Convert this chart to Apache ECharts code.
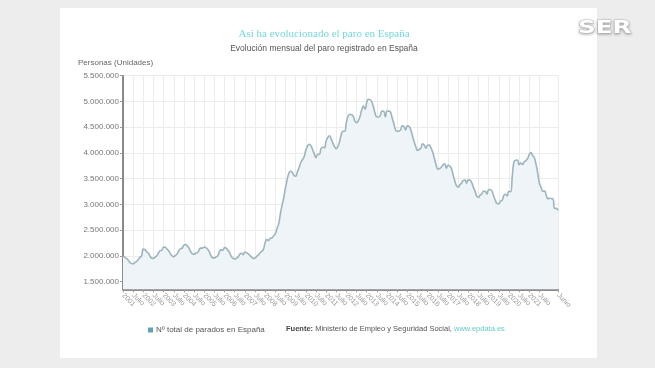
<!DOCTYPE html>
<html>
<head>
<meta charset="utf-8">
<script src="https://cdn.jsdelivr.net/npm/echarts@6/dist/echarts.min.js"></script>
<style>
html,body{margin:0;padding:0;background:#ededed;}
#c{width:655px;height:368px;}
</style>
</head>
<body>
<div id="c"></div>
<script>
// Paro registrado en España (miles de personas), enero 2001 - junio 2022
const years = [2001,2002,2003,2004,2005,2006,2007,2008,2009,2010,2011,2012,2013,2014,2015,2016,2017,2018,2019,2020,2021,2022];
const paro2001 = [1990,1975,1950,1920,1870,1850,1845,1870,1890,1930,1970,2000];
const paro2002 = [2130,2120,2080,2050,1990,1955,1950,1975,2000,2060,2100,2110];
const paro2003 = [2170,2165,2130,2100,2040,2000,1985,2010,2040,2100,2140,2150];
const paro2004 = [2210,2220,2190,2150,2080,2040,2030,2050,2060,2120,2150,2150];
const paro2005 = [2170,2160,2130,2080,2000,1960,1960,1980,2000,2080,2120,2110];
const paro2006 = [2160,2150,2110,2060,1990,1950,1940,1955,1980,2030,2050,2020];
const paro2007 = [2075,2060,2040,2010,1970,1950,1955,1990,2015,2060,2090,2130];
const paro2008 = [2260,2315,2300,2340,2350,2390,2430,2530,2625,2820,2990,3130];
const paro2009 = [3328,3482,3606,3645,3620,3565,3545,3630,3710,3810,3870,3924];
const paro2010 = [4048,4130,4167,4142,4066,3982,3909,3970,3972,4086,4110,4100];
const paro2011 = [4231,4299,4333,4269,4190,4122,4080,4130,4226,4360,4420,4422];
const paro2012 = [4599,4712,4751,4744,4714,4615,4587,4626,4705,4833,4908,4849];
const paro2013 = [4980,5040,5035,4989,4890,4763,4698,4699,4724,4811,4808,4701];
const paro2014 = [4814,4812,4795,4684,4572,4449,4419,4427,4447,4526,4512,4448];
const paro2015 = [4525,4512,4451,4333,4215,4120,4046,4067,4094,4176,4149,4094];
const paro2016 = [4150,4152,4094,4011,3891,3767,3683,3698,3720,3764,3789,3702];
const paro2017 = [3760,3750,3702,3573,3461,3362,3335,3382,3410,3467,3475,3412];
const paro2018 = [3476,3470,3422,3335,3252,3162,3135,3182,3202,3254,3252,3202];
const paro2019 = [3285,3289,3255,3163,3079,3015,3011,3065,3080,3177,3198,3163];
const paro2020 = [3253,3246,3548,3831,3857,3862,3773,3802,3776,3826,3851,3888];
const paro2021 = [3964,4008,3949,3910,3781,3614,3416,3333,3257,3257,3182,3106];
const paro2022 = [3123,3111,3108,2922,2922,2881];
const monthNames = ['Enero','Febrero','Marzo','Abril','Mayo','Junio','Julio','Agosto','Septiembre','Octubre','Noviembre','Diciembre'];
const yTicks = [1500000,2000000,2500000,3000000,3500000,4000000,4500000,5000000,5500000];

const allYears = [paro2001,paro2002,paro2003,paro2004,paro2005,paro2006,paro2007,paro2008,paro2009,paro2010,paro2011,paro2012,paro2013,paro2014,paro2015,paro2016,paro2017,paro2018,paro2019,paro2020,paro2021,paro2022];
const categories = [];
const values = [];
allYears.forEach(function(arr, yi){
  arr.forEach(function(v, mi){
    categories.push(monthNames[mi] + ' ' + years[yi]);
    values.push(v * 1000);
  });
});
const lastIdx = values.length - 1;
function showTick(i){ return (i % 6 === 0 && i <= lastIdx - 11) || i === lastIdx; }
function fmt(v){ return String(v).replace(/\B(?=(\d{3})+(?!\d))/g, '.'); }

const chart = echarts.init(document.getElementById('c'), null, {renderer:'canvas'});
chart.setOption({
  animation: false,
  backgroundColor: 'transparent',
  title: {
    text: 'Así ha evolucionado el paro en España',
    subtext: 'Evolución mensual del paro registrado en España',
    left: 319, top: 24, textAlign: 'center', itemGap: 4,
    textStyle: {fontFamily: 'Liberation Serif', fontSize: 11, fontWeight: 'normal', color: '#74d8da'},
    subtextStyle: {fontFamily: 'Liberation Sans', fontSize: 8.5, color: '#555'}
  },
  graphic: [
    {type:'rect', z:-10, shape:{x:60,y:8,width:537,height:350}, style:{fill:'#ffffff'}},
    {type:'text', left:78, top:59, style:{text:'Personas (Unidades)', fontFamily:'Liberation Sans', fontSize:8, fill:'#666'}},
    {type:'text', left:286, top:324.5, style:{
      text:'{b|Fuente:} Ministerio de Empleo y Seguridad Social, {l|www.epdata.es}',
      fontFamily:'Liberation Sans', fontSize:7.5, fill:'#555',
      rich:{b:{fontWeight:'bold', fontFamily:'Liberation Sans', fontSize:7.5, fill:'#444'}, l:{fill:'#66cccc', fontFamily:'Liberation Sans', fontSize:7.5}}
    }},
    {type:'text', x:578, y:20, scaleX:1.45, style:{text:'SER', fontFamily:'DejaVu Sans', fontWeight:'bold', fontSize:17, fill:'#ffffff', stroke:'#c8c8c8', lineWidth:1, textShadowColor:'rgba(0,0,0,0.25)', textShadowBlur:3, textShadowOffsetY:1}}
  ],
  legend: {
    left: 143, top: 321, icon: 'rect', itemWidth: 5, itemHeight: 5, itemGap: 4,
    textStyle: {fontFamily:'Liberation Sans', fontSize: 8, color: '#555', padding:[0,0,0,-2]},
    data: ['Nº total de parados en España']
  },
  grid: {left: 123, right: 97, top: 75.7, bottom: 78.7, containLabel: false},
  xAxis: {
    type: 'category', data: categories, boundaryGap: false,
    axisLine: {lineStyle: {color: '#666', width: 1.5}},
    axisTick: {show: true, length: 3, interval: function(i){return showTick(i);}, lineStyle:{color:'#999'}},
    axisLabel: {
      interval: function(i){return showTick(i);}, rotate: -45, fontSize: 7, color: '#999',
      fontFamily: 'Liberation Sans', margin: 5,
      formatter: function(v, i){
        if (i === lastIdx) return 'Junio';
        return (i % 12 === 0) ? v.split(' ')[1] : 'Julio';
      }
    },
    splitLine: {show: true, interval: function(i){return showTick(i);}, lineStyle: {color: '#ececec', width: 1}}
  },
  yAxis: {
    type: 'value', min: 1350000, max: 5500000,
    axisLine: {show: true, lineStyle: {color: '#666', width: 1.5}},
    axisTick: {show: true, length: 3, customValues: yTicks, lineStyle:{color:'#999'}},
    axisLabel: {customValues: yTicks, formatter: fmt, fontSize: 8, color: '#777', fontFamily: 'Liberation Sans', margin: 4},
    splitLine: {show: true, lineStyle: {color: '#ececec', width: 1}}
  },
  series: [{
    name: 'Nº total de parados en España',
    type: 'line', data: values, smooth: true, showSymbol: false,
    itemStyle: {color: '#5fa2b6'},
    lineStyle: {color: '#9db5bd', width: 1.6},
    areaStyle: {color: '#eef4f8', opacity: 1}
  }]
});
</script>
</body>
</html>
